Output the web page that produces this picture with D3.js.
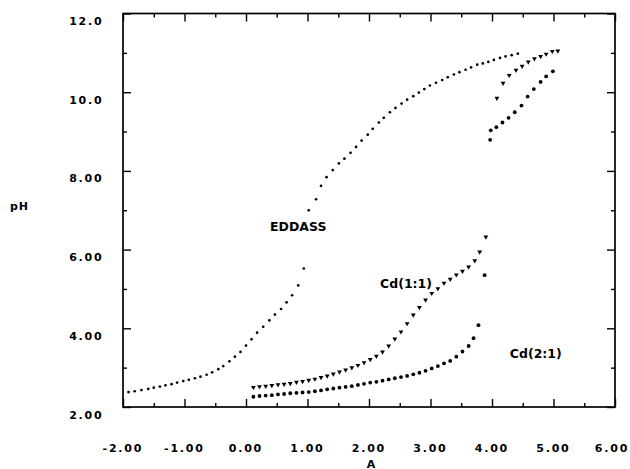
<!DOCTYPE html>
<html><head><meta charset="utf-8">
<script src="https://cdn.jsdelivr.net/npm/d3@7"></script>
<style>
body{margin:0;background:#fff;}
svg text{font-family:"DejaVu Sans",sans-serif;font-weight:bold;fill:#000;}
</style></head>
<body><svg id="c" width="630" height="469"></svg>
<script>
// ---- data ----
const eddassA = [-1.91,-1.81,-1.70,-1.59,-1.50,-1.40,-1.31,-1.21,-1.12,-1.02,-0.93,-0.83,-0.74,-0.64,-0.55,-0.45,-0.37,-0.27,-0.18,-0.09,0.00,0.09,0.18,0.28,0.38,0.47,0.57,0.66,0.75,0.85,0.94,1.02,1.14,1.22,1.31,1.41,1.51,1.60,1.70,1.79,1.88,1.98,2.06,2.16,2.24,2.34,2.43,2.53,2.62,2.72,2.81,2.90,2.99,3.09,3.19,3.28,3.38,3.47,3.57,3.66,3.76,3.85,3.94,4.03,4.13,4.22,4.32,4.42];
const eddassPH = [2.38,2.40,2.43,2.46,2.49,2.52,2.55,2.58,2.62,2.66,2.69,2.73,2.77,2.82,2.88,2.96,3.04,3.16,3.28,3.40,3.56,3.72,3.89,4.04,4.20,4.35,4.49,4.66,4.84,5.09,5.52,7.00,7.28,7.62,7.84,8.02,8.19,8.31,8.46,8.61,8.77,8.92,9.07,9.23,9.35,9.49,9.60,9.71,9.81,9.90,9.99,10.08,10.17,10.24,10.31,10.38,10.45,10.51,10.57,10.63,10.70,10.73,10.77,10.82,10.87,10.91,10.94,10.98];

const cd11A = [0.12,0.22,0.32,0.42,0.52,0.62,0.72,0.82,0.92,1.02,1.12,1.22,1.32,1.42,1.52,1.62,1.72,1.82,1.92,2.02,2.12,2.22,2.32,2.42,2.52,2.62,2.72,2.82,2.92,3.02,3.12,3.22,3.32,3.42,3.52,3.62,3.72,3.80,3.90,
               4.08,4.18,4.28,4.39,4.49,4.59,4.69,4.79,4.88,4.98,5.07];
const cd11PH = [2.50,2.52,2.53,2.55,2.57,2.58,2.60,2.63,2.65,2.68,2.71,2.75,2.79,2.84,2.89,2.94,3.00,3.06,3.13,3.21,3.29,3.40,3.55,3.73,3.91,4.12,4.34,4.53,4.72,4.89,5.01,5.15,5.25,5.36,5.45,5.56,5.72,5.94,6.32,
                9.85,10.23,10.43,10.56,10.66,10.77,10.85,10.91,10.97,11.04,11.05];

const cd21A = [0.12,0.22,0.32,0.42,0.52,0.62,0.72,0.82,0.92,1.02,1.12,1.22,1.32,1.42,1.52,1.62,1.72,1.82,1.92,2.02,2.12,2.22,2.32,2.42,2.52,2.62,2.72,2.82,2.92,3.02,3.12,3.22,3.32,3.42,3.52,3.62,3.70,3.78,3.88,
               3.97,3.98,4.07,4.17,4.27,4.37,4.48,4.58,4.68,4.79,4.88,4.99];
const cd21PH = [2.26,2.28,2.29,2.30,2.32,2.33,2.35,2.36,2.37,2.38,2.40,2.42,2.45,2.47,2.49,2.51,2.53,2.56,2.59,2.62,2.64,2.67,2.70,2.73,2.76,2.79,2.83,2.87,2.92,2.98,3.04,3.11,3.17,3.28,3.41,3.55,3.75,4.08,5.35,
                8.79,9.03,9.11,9.23,9.35,9.49,9.66,9.89,10.08,10.26,10.40,10.53];

const xTicks = [-2,-1,0,1,2,3,4,5,6];
const xTickLabels = ["-2.00","-1.00","0.00","1.00","2.00","3.00","4.00","5.00","6.00"];
const yTicks = [2,4,6,8,10,12];
const yTickLabels = ["2.00","4.00","6.00","8.00","10.0","12.0"];
const xMinor = [-1.5,-0.5,0.5,1.5,2.5,3.5,4.5,5.5];
const yMinor = [3,5,7,9,11];

const seriesLabels = [
  {text:"EDDASS", a:0.39, ph:6.46},
  {text:"Cd(1:1)", a:2.18, ph:5.02},
  {text:"Cd(2:1)", a:4.29, ph:3.24}
];

// ---- chart ----
const svg = d3.select("#c");
const L=123, R=615, T=13.5, B=407;
const x = d3.scaleLinear().domain([-2,6]).range([L,R]);
const y = d3.scaleLinear().domain([2,12]).range([B,T]);

const g = svg.append("g");
function styleAxis(sel){
  sel.select(".domain").remove();
  sel.selectAll("line").attr("stroke","#000").attr("stroke-width",1.4);
  sel.selectAll("text").remove();
}
g.append("g").attr("transform",`translate(0,${B})`).call(d3.axisBottom(x).tickValues(xTicks).tickSize(-8)).call(styleAxis);
g.append("g").attr("transform",`translate(0,${B})`).call(d3.axisBottom(x).tickValues(xMinor).tickSize(-4)).call(styleAxis);
g.append("g").attr("transform",`translate(0,${T})`).call(d3.axisTop(x).tickValues(xTicks).tickSize(-8)).call(styleAxis);
g.append("g").attr("transform",`translate(0,${T})`).call(d3.axisTop(x).tickValues(xMinor).tickSize(-4)).call(styleAxis);
g.append("g").attr("transform",`translate(${L},0)`).call(d3.axisLeft(y).tickValues(yTicks).tickSize(-8)).call(styleAxis);
g.append("g").attr("transform",`translate(${L},0)`).call(d3.axisLeft(y).tickValues(yMinor).tickSize(-4)).call(styleAxis);
g.append("g").attr("transform",`translate(${R},0)`).call(d3.axisRight(y).tickValues(yTicks).tickSize(-8)).call(styleAxis);
g.append("g").attr("transform",`translate(${R},0)`).call(d3.axisRight(y).tickValues(yMinor).tickSize(-4)).call(styleAxis);

g.append("rect").attr("x",L).attr("y",T).attr("width",R-L).attr("height",B-T)
  .attr("fill","none").attr("stroke","#000").attr("stroke-width",1.7);

// tick labels
const ls = 1.8;
svg.append("g").selectAll("text").data(yTicks).join("text")
  .attr("x",101.7+ls).attr("y",d=>y(d)+11.5)
  .attr("text-anchor","end").attr("font-size",11).attr("letter-spacing",ls)
  .text((d,i)=>yTickLabels[i]);
svg.append("g").selectAll("text").data(xTicks).join("text")
  .attr("x",d=>Math.min(x(d)-1+ls/2, 612))
  .attr("y",451.7)
  .attr("text-anchor","middle").attr("font-size",11).attr("letter-spacing",ls)
  .text((d,i)=>xTickLabels[i]);

// axis titles
svg.append("text").attr("x",10).attr("y",210).attr("font-size",11).attr("letter-spacing",1).text("pH");
svg.append("text").attr("x",371).attr("y",467.5).attr("text-anchor","middle").attr("font-size",11).text("A");

// data marks
const plot = svg.append("g");
plot.selectAll("circle.e").data(eddassA).join("circle").attr("class","e")
  .attr("cx",d=>x(d)).attr("cy",(d,i)=>y(eddassPH[i])).attr("r",1.35).attr("fill","#000");
const tri = d3.symbol().type(d3.symbolTriangle).size(10);
plot.selectAll("path.t").data(cd11A).join("path").attr("class","t")
  .attr("d",tri).attr("fill","#000")
  .attr("transform",(d,i)=>`translate(${x(d)},${y(cd11PH[i])}) rotate(180)`);
plot.selectAll("circle.c").data(cd21A).join("circle").attr("class","c")
  .attr("cx",d=>x(d)).attr("cy",(d,i)=>y(cd21PH[i])).attr("r",1.9).attr("fill","#000");

// series labels
svg.append("g").selectAll("text").data(seriesLabels).join("text")
  .attr("x",d=>x(d.a)).attr("y",d=>y(d.ph))
  .attr("font-size",12.5)
  .text(d=>d.text);
</script></body></html>
